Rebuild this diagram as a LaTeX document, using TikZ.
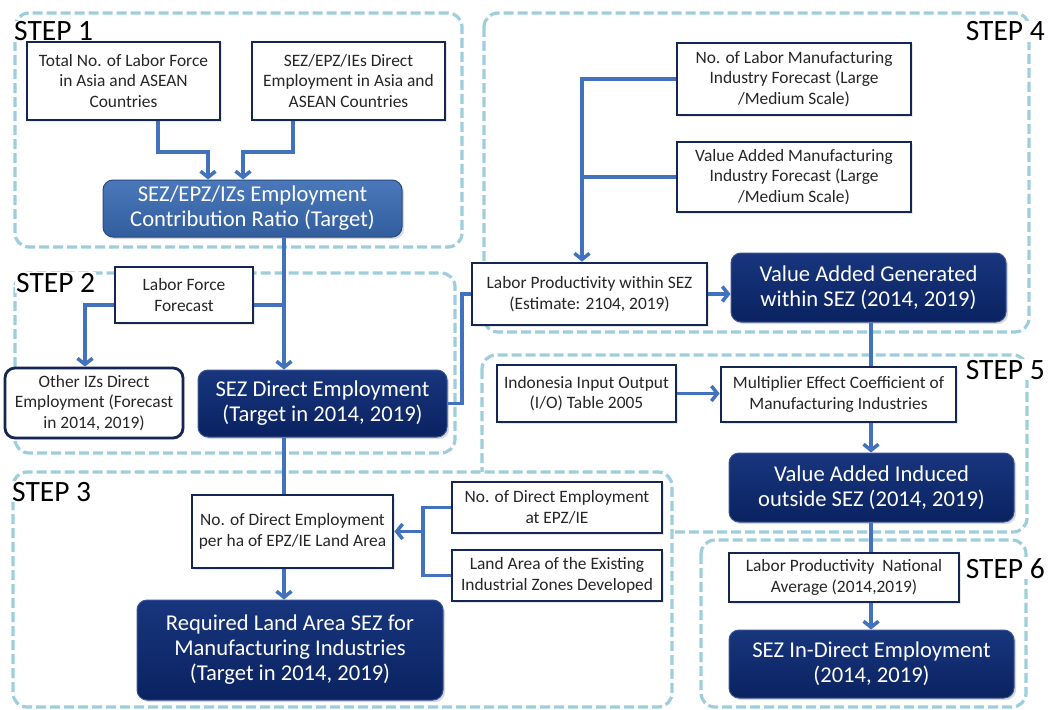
\documentclass[tikz,border=0pt]{standalone}
\usepackage{fontspec}
\setmainfont{Carlito}
\usetikzlibrary{arrows.meta,shadows,calc}

\definecolor{zoneline}{RGB}{158,206,220}
\definecolor{boxline}{RGB}{20,38,82}
\definecolor{navytop}{RGB}{24,54,126}
\definecolor{navybot}{RGB}{10,34,96}
\definecolor{navyedge}{RGB}{58,84,146}
\definecolor{midtop}{RGB}{74,120,186}
\definecolor{midbot}{RGB}{50,94,158}
\definecolor{flow}{RGB}{66,114,190}

\tikzset{
  zone/.style={draw=zoneline, fill=white, line width=3.2pt,
    dash pattern=on 10pt off 4pt, rounded corners=14pt},
  steplabel/.style={font=\fontsize{29.5}{31}\selectfont, text=black,
    fill=white, inner sep=1pt},
  smallbox/.style={draw=boxline, line width=2.8pt, fill=white, align=center,
    inner sep=2pt, text=black!85, font=\fontsize{17.4}{20.5}\selectfont,
    drop shadow={opacity=0.18, shadow xshift=1.5pt, shadow yshift=-1.5pt}},
  roundbox/.style={smallbox, rounded corners=10pt},
  darkbox/.style={draw=navyedge, line width=1pt, rounded corners=10pt,
    top color=navytop, bottom color=navybot, align=center, text=white,
    inner sep=2pt, font=\fontsize{22.6}{25}\selectfont,
    drop shadow={opacity=0.3, shadow xshift=2pt, shadow yshift=-2pt}},
  midbox/.style={darkbox, top color=midtop, bottom color=midbot, draw=midbot!80!black},
  flowline/.style={draw=flow, line width=3.5pt},
  arr/.style={flowline, -{Straight Barb[length=6pt,width=15pt]}},
}

\begin{document}
\begin{tikzpicture}[x=1pt, y=-1pt]
\useasboundingbox (0,0) rectangle (1048,709);

% ---- step zones (step 3 last: it overlaps the corner of step 5) ----
\draw[zone] (15,13) rectangle (462,247);
\draw[zone] (15,273) rectangle (455,453);
\draw[zone] (484,13) rectangle (1029,332);
\draw[zone] (482,355) rectangle (1027,532);
\draw[zone] (701,540) rectangle (1026,707);
\draw[zone] (13,472) rectangle (672,707);

% ---- step labels ----
\node[steplabel, anchor=base west] (s1) at (13,41) {STEP 1};
\node[steplabel, anchor=base west] (s2) at (15,292) {STEP 2};
\node[steplabel, anchor=base west] (s3) at (11,501) {STEP 3};
\node[steplabel, anchor=base east] (s4) at (1046,41) {STEP 4};
\node[steplabel, anchor=base east] (s5) at (1046,379) {STEP 5};
\node[steplabel, anchor=base east] (s6) at (1046,578) {STEP 6};

% ---- step 1 ----
\node[smallbox, minimum width=193pt, minimum height=78pt] (a1) at (123.5,81)
  {Total No. of Labor Force\\in Asia and ASEAN\\Countries};
\node[smallbox, minimum width=193pt, minimum height=78pt] (a2) at (348.5,81)
  {SEZ/EPZ/IEs Direct\\Employment in Asia and\\ASEAN Countries};
\node[midbox, minimum width=299pt, minimum height=57pt] (a3) at (252.5,208.5)
  {SEZ/EPZ/IZs Employment\\Contribution Ratio (Target)};

% ---- step 2 ----
\node[smallbox, minimum width=138pt, minimum height=56pt] (b1) at (184,295)
  {Labor Force\\Forecast};
\node[roundbox, minimum width=178pt, minimum height=70pt] (b2) at (94,403)
  {Other IZs Direct\\Employment (Forecast\\in 2014, 2019)};
\node[darkbox, minimum width=249pt, minimum height=67pt] (b3) at (322.5,403.5)
  {SEZ Direct Employment\\(Target in 2014, 2019)};

% ---- step 3 ----
\node[smallbox, minimum width=201pt, minimum height=73pt] (g1) at (292.5,531.5)
  {No. of Direct Employment\\per ha of EPZ/IE Land Area};
\node[smallbox, minimum width=210pt, minimum height=51pt] (g2) at (557,507.5)
  {No. of Direct Employment\\at EPZ/IE};
\node[smallbox, minimum width=210pt, minimum height=51pt] (g3) at (557,575.5)
  {Land Area of the Existing\\Industrial Zones Developed};
\node[darkbox, minimum width=306pt, minimum height=100pt] (g4) at (290,650)
  {Required Land Area SEZ for\\Manufacturing Industries\\(Target in 2014, 2019)};

% ---- step 4 ----
\node[smallbox, minimum width=234pt, minimum height=72pt] (d1) at (794,79)
  {No. of Labor Manufacturing\\Industry Forecast (Large\\/Medium Scale)};
\node[smallbox, minimum width=234pt, minimum height=70pt] (d2) at (794,177)
  {Value Added Manufacturing\\Industry Forecast (Large\\/Medium Scale)};
\node[smallbox, minimum width=235pt, minimum height=62pt] (c1) at (589.5,294)
  {Labor Productivity within SEZ\\(Estimate: 2104, 2019)};
\node[darkbox, minimum width=275pt, minimum height=69pt] (d3) at (868.5,287.5)
  {Value Added Generated\\within SEZ (2014, 2019)};

% ---- step 5 ----
\node[smallbox, minimum width=179pt, minimum height=57pt] (e1) at (586.5,393.5)
  {Indonesia Input Output\\(I/O) Table 2005};
\node[smallbox, minimum width=235pt, minimum height=55pt] (e2) at (838.5,394.5)
  {Multiplier Effect Coefficient of\\Manufacturing Industries};
\node[darkbox, minimum width=285pt, minimum height=69pt] (e3) at (871.5,487.5)
  {Value Added Induced\\outside SEZ (2014, 2019)};

% ---- step 6 ----
\node[smallbox, minimum width=230pt, minimum height=49pt] (f1) at (844,577.5)
  {Labor Productivity\ \ National\\Average (2014,2019)};
\node[darkbox, minimum width=285pt, minimum height=68pt] (f2) at (871.5,664)
  {SEZ In-Direct Employment\\(2014, 2019)};

% ---- connector guide points ----
\coordinate (j1a) at (158,152);
\coordinate (j1b) at (208,152);
\coordinate (j2a) at (293,152);
\coordinate (j2b) at (243,152);
\coordinate (trunk) at (284,0);
\coordinate (b1y) at (0,305);
\coordinate (b2x) at (85,0);
\coordinate (elbow) at (462,0);
\coordinate (d4x) at (582,0);
\coordinate (rx) at (871,0);
\coordinate (g3x) at (423,0);

% ---- connectors ----
\draw[arr] (a1.south -| j1a) -- (j1a) -- (j1b) -- (a3.north -| j1b);
\draw[arr] (a2.south -| j2a) -- (j2a) -- (j2b) -- (a3.north -| j2b);
\draw[arr] (a3.south -| trunk) -- (b3.north -| trunk);
\draw[flowline] (b1.east |- b1y) -- (trunk |- b1y);
\draw[arr] (b1.west |- b1y) -- (b2x |- b1y) -- (b2.north -| b2x);
\draw[flowline] (b3.south -| trunk) -- (g1.north -| trunk);
\draw[flowline] (b3.east) -- (elbow |- b3.east) -- (elbow |- c1.west) -- (c1.west);

\draw[arr] (d1.west) -- (d4x |- d1.west) -- (c1.north -| d4x);
\draw[flowline] (d2.west) -- (d4x |- d2.west);
\draw[arr] (c1.east) -- (d3.west |- c1.east);
\draw[flowline] (d3.south -| rx) -- (e2.north -| rx);

\draw[arr] (e1.east) -- (e2.west |- e1.east);
\draw[arr] (e2.south -| rx) -- (e3.north -| rx);
\draw[flowline] (e3.south -| rx) -- (f1.north -| rx);
\draw[arr] (f1.south -| rx) -- (f2.north -| rx);

\draw[flowline] (g2.west) -- (g3x |- g2.west) -- (g3x |- g3.west) -- (g3.west);
\draw[arr] (g3x |- g1.east) -- (g1.east);
\draw[arr] (g1.south -| trunk) -- (g4.north -| trunk);
\end{tikzpicture}
\end{document}
